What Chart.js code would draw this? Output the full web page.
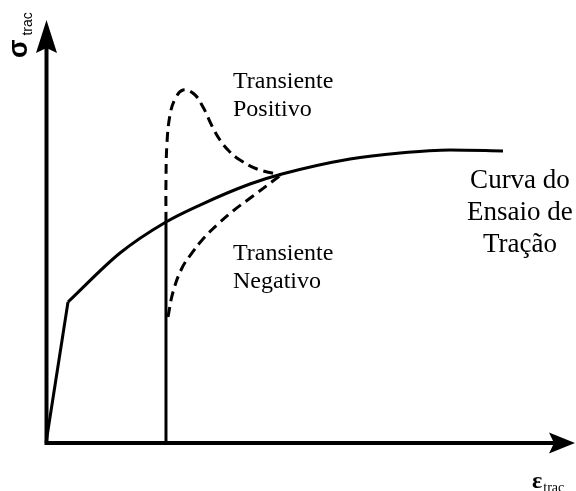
<!DOCTYPE html>
<html><head><meta charset="utf-8">
<script src="https://cdn.jsdelivr.net/npm/chart.js@4/dist/chart.umd.min.js"></script>
<style>html,body{margin:0;padding:0;background:#fff;}#wrap{width:576px;height:491px;}</style>
</head><body><div id="wrap"><canvas id="c" width="576" height="491"></canvas></div>
<script>
// Tensile test curve (strain, stress) in arbitrary units
const elasticStrain = [0, 0.416];
const elasticStress = [0, 3.333];
const plasticStrain = [0.416, 1.399, 2.268, 2.911, 3.856, 4.461, 5.747, 6.692, 7.637, 8.639];
const plasticStress = [3.333, 4.492, 5.225, 5.626, 6.123, 6.359, 6.714, 6.856, 6.927, 6.903];
// Strain-rate change line
const jumpStrain = [2.268, 2.268];
const jumpStress = [0, 5.225];
// Positive transient (dashed)
const posStrain = [2.268, 2.268, 2.287, 2.344, 2.439, 2.590, 2.798, 2.968, 3.138, 3.289, 3.459, 3.667, 3.989, 4.442];
const posStress = [5.225, 6.217, 7.092, 7.754, 8.132, 8.345, 8.251, 7.943, 7.494, 7.163, 6.903, 6.690, 6.478, 6.336];
// Negative transient (dashed)
const negStrain = [2.306, 2.401, 2.571, 2.760, 2.968, 3.233, 3.535, 3.913, 4.442];
const negStress = [2.979, 3.570, 4.137, 4.492, 4.823, 5.154, 5.485, 5.839, 6.336];
// Text labels
const posLabel = ["Transiente", "Positivo"];
const negLabel = ["Transiente", "Negativo"];
const curveLabel = ["Curva do", "Ensaio de", "Tração"];
const yAxisLabel = ["σ", "trac"];
const xAxisLabel = ["ε", "trac"];

const pts = (xs, ys) => xs.map((x, i) => ({x: x, y: ys[i]}));

const decor = {
  id: 'decor',
  beforeDatasetsDraw(chart) {
    const ctx = chart.ctx, xs = chart.scales.x, ys = chart.scales.y;
    const x0 = xs.getPixelForValue(0), y0 = ys.getPixelForValue(0);
    const xEnd = xs.getPixelForValue(10), yEnd = ys.getPixelForValue(10);
    ctx.save();
    ctx.strokeStyle = '#000'; ctx.fillStyle = '#000';
    ctx.lineWidth = 4; ctx.lineCap = 'square';
    ctx.beginPath();
    ctx.moveTo(x0 + 0.5, yEnd + 28); ctx.lineTo(x0 + 0.5, y0); ctx.lineTo(xEnd - 22, y0);
    ctx.stroke();
    // y arrow
    ctx.beginPath();
    ctx.moveTo(x0 + 0.5, yEnd);
    ctx.lineTo(x0 + 11, yEnd + 33);
    ctx.lineTo(x0 + 0.5, yEnd + 28);
    ctx.lineTo(x0 - 10, yEnd + 33);
    ctx.closePath(); ctx.fill();
    // x arrow
    ctx.beginPath();
    ctx.moveTo(xEnd, y0);
    ctx.lineTo(xEnd - 26, y0 - 10.5);
    ctx.lineTo(xEnd - 21, y0);
    ctx.lineTo(xEnd - 26, y0 + 10.5);
    ctx.closePath(); ctx.fill();
    ctx.restore();
  },
  afterDatasetsDraw(chart) {
    const ctx = chart.ctx, xs = chart.scales.x, ys = chart.scales.y;
    const X = v => xs.getPixelForValue(v), Y = v => ys.getPixelForValue(v);
    ctx.save();
    ctx.fillStyle = '#000';
    ctx.textBaseline = 'alphabetic';
    const serif = '"Liberation Serif", "Times New Roman", serif';
    ctx.font = '24px ' + serif;
    ctx.textAlign = 'left';
    ctx.fillText(posLabel[0], X(3.535), Y(8.39));
    ctx.fillText(posLabel[1], X(3.535), Y(7.73));
    ctx.fillText(negLabel[0], X(3.535), Y(4.33));
    ctx.fillText(negLabel[1], X(3.535), Y(3.66));
    ctx.font = '27px ' + serif;
    ctx.textAlign = 'center';
    ctx.fillText(curveLabel[0], X(8.96), Y(6.03));
    ctx.fillText(curveLabel[1], X(8.96), Y(5.27));
    ctx.fillText(curveLabel[2], X(8.96), Y(4.52));
    // y axis label (rotated)
    ctx.textAlign = 'left';
    ctx.save();
    ctx.translate(X(0) - 19, Y(10) + 38);
    ctx.rotate(-Math.PI / 2);
    ctx.font = 'bold 27px "Liberation Sans", Arial, sans-serif';
    ctx.fillText(yAxisLabel[0], 0, 0);
    const w = ctx.measureText(yAxisLabel[0]).width;
    ctx.font = '14px "Liberation Sans", Arial, sans-serif';
    ctx.fillText(yAxisLabel[1], w + 4, 5);
    ctx.restore();
    // x axis label
    ctx.font = 'bold 24px ' + serif;
    ctx.fillText(xAxisLabel[0], X(10) - 43, Y(0) + 45);
    const w2 = ctx.measureText(xAxisLabel[0]).width;
    ctx.font = '14px ' + serif;
    ctx.fillText(xAxisLabel[1], X(10) - 43 + w2 + 1, Y(0) + 49);
    ctx.restore();
  }
};

const solid = {borderColor: '#000', borderWidth: 3, pointRadius: 0, fill: false};
new Chart(document.getElementById('c'), {
  type: 'line',
  data: {
    datasets: [
      Object.assign({data: pts(elasticStrain, elasticStress), tension: 0}, solid),
      Object.assign({data: pts(plasticStrain, plasticStress), cubicInterpolationMode: 'monotone'}, solid),
      Object.assign({data: pts(jumpStrain, jumpStress), tension: 0}, solid),
      {data: pts(posStrain, posStress), borderColor: '#000', borderWidth: 3, borderDash: [10, 6], pointRadius: 0, tension: 0.4, fill: false},
      {data: pts(negStrain, negStress), borderColor: '#000', borderWidth: 3, borderDash: [10, 6], pointRadius: 0, tension: 0.4, fill: false}
    ]
  },
  options: {
    responsive: false,
    animation: false,
    clip: false,
    layout: {padding: {left: 46, top: 20, right: 1, bottom: 48}},
    plugins: {legend: {display: false}, tooltip: {enabled: false}},
    scales: {
      x: {type: 'linear', min: 0, max: 10, display: false},
      y: {type: 'linear', min: 0, max: 10, display: false}
    }
  },
  plugins: [decor]
});
</script>
</body></html>
